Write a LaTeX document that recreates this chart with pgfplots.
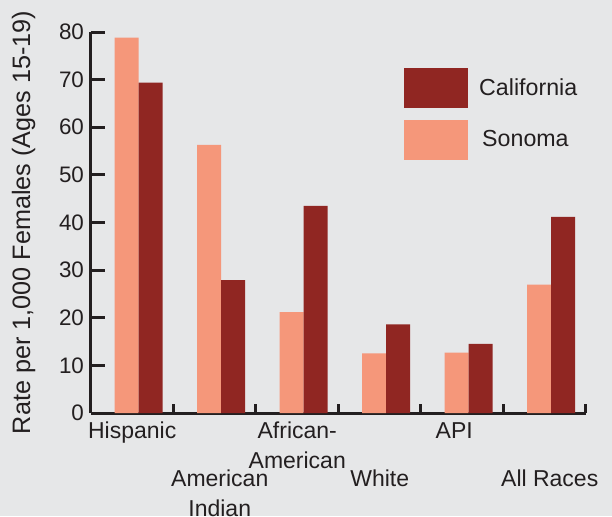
\documentclass[border=0pt]{standalone}
\usepackage{fontspec}
\setmainfont{Liberation Sans}
\usepackage{pgfplots}
\pgfplotsset{compat=1.18}
\usetikzlibrary{backgrounds}
\definecolor{bg}{HTML}{E6E7E8}
\definecolor{sonoma}{HTML}{F5977A}
\definecolor{calif}{HTML}{902622}
\definecolor{ink}{HTML}{231F20}

\begin{document}
\begin{tikzpicture}[font=\fontsize{11.5}{15}\selectfont]
\begin{axis}[
  scale only axis, width=247.5pt, height=190.5pt,
  xmin=-0.5, xmax=5.5, ymin=0, ymax=80,
  axis x line*=bottom, axis y line*=left,
  axis line style={line width=1.5pt, ink},
  ybar, bar width=12pt,
  tick align=inside,
  major tick length=7pt,
  ytick={0,10,...,80},
  ytick style={line width=1.5pt, ink},
  xtick={0.5,1.5,...,5.5},
  xtick style={line width=1.5pt, ink, /pgfplots/major tick length=4.5pt},
  xticklabels={
    {\strut Hispanic},
    {\strut\\[9pt]\hspace*{5pt}American\\\hspace*{5pt}Indian},
    {\strut African-\\American},
    {\strut\\[9pt]White},
    {\strut API\hspace*{8pt}},
    {\strut\\[9pt]\hspace*{5pt}All Races}},
  xticklabel style={align=center, anchor=north, xshift=-20.625pt, yshift=1.5pt, text=ink},
  yticklabel style={text=ink, font=\fontsize{11.2}{13}\selectfont},
  /pgf/number format/assume math mode=true,
  ylabel={Rate per 1,000 Females (Ages 15-19)},
  ylabel style={text=ink, font=\fontsize{12.6}{15}\selectfont},
  ylabel shift=5pt,
  legend style={at={(0.632,0.906)}, anchor=north west, draw=none, fill=none,
    row sep=6pt, inner sep=0pt, text=ink, font=\fontsize{11.6}{14}\selectfont},
  legend cell align=left,
  reverse legend,
]
\addplot[fill=sonoma, draw=none, bar shift=-2.75pt,
  legend image code/.code={\fill[sonoma] (0pt,-10pt) rectangle (32pt,10pt);}]
  coordinates {(0,78.8) (1,56.3) (2,21.2) (3,12.5) (4,12.7) (5,26.95)};
\addplot[fill=calif, draw=none, bar shift=9.25pt,
  legend image code/.code={\fill[calif] (0pt,-10pt) rectangle (32pt,10pt);}]
  coordinates {(0,69.4) (1,27.9) (2,43.5) (3,18.6) (4,14.5) (5,41.2)};
\legend{\hspace*{5pt}Sonoma, \hspace*{3.5pt}California}
\end{axis}
\begin{pgfonlayer}{background}
  \fill[bg] (-45.5pt,-51.5pt) rectangle (260.5pt,206.5pt);
\end{pgfonlayer}
\pgfresetboundingbox
\path[use as bounding box] (-45.5pt,-51.5pt) rectangle (260.5pt,206.5pt);
\end{tikzpicture}
\end{document}
